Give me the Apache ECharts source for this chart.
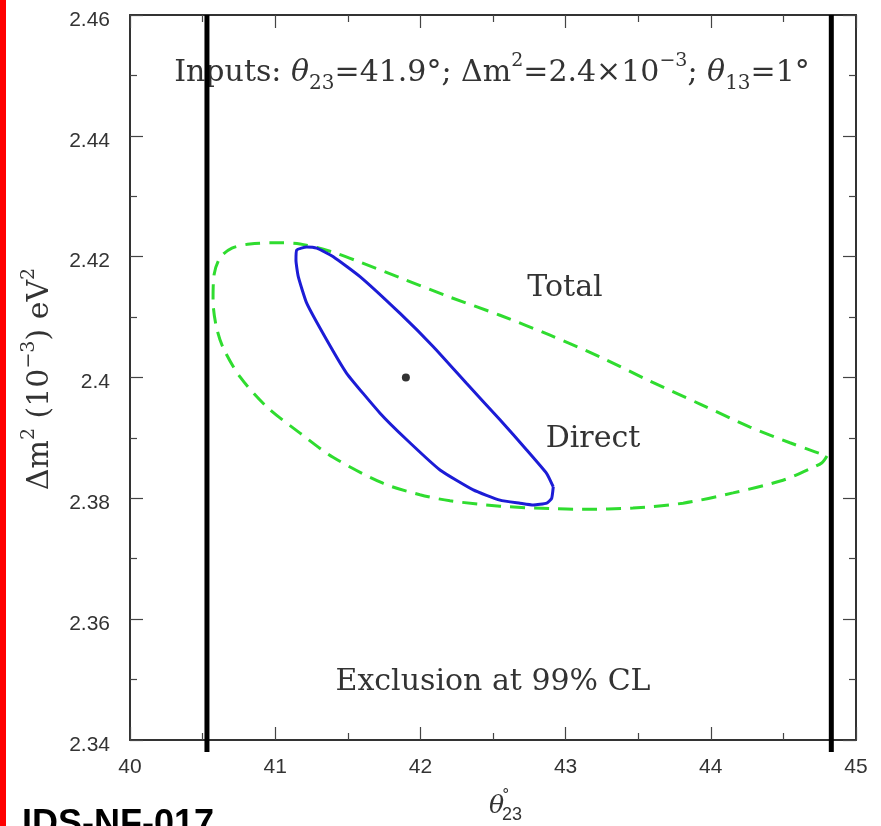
<!DOCTYPE html>
<html><head><meta charset="utf-8">
<script src="https://cdn.jsdelivr.net/npm/echarts@6/dist/echarts.min.js"></script>
<style>html,body{margin:0;padding:0;background:#fff}#c{width:881px;height:826px}</style>
</head><body><div id="c"></div>
<script>
// ---- data ----
const xRange = [40, 45];
const yRange = [2.34, 2.46];
const xTickStep = 1;
const yTickStep = 0.02;

// "Total" 99% CL contour (green dashed)
const totalTheta = [44.80, 44.766, 44.683, 44.497, 44.153, 43.809, 43.464, 43.120, 42.893, 42.548, 42.204, 41.997, 41.742, 41.398, 41.171, 40.944, 40.758, 40.640, 40.592, 40.572, 40.579, 40.620, 40.702, 40.826, 40.999, 41.171, 41.377, 41.584, 41.860, 42.204, 42.548, 42.893, 43.237, 43.581, 43.926, 44.270, 44.545, 44.718, 44.80];
const totalDm2 = [2.3870, 2.3859, 2.3849, 2.3830, 2.3809, 2.3792, 2.3784, 2.3782, 2.3783, 2.3787, 2.3796, 2.3806, 2.3825, 2.3868, 2.3908, 2.3951, 2.4001, 2.4050, 2.4087, 2.4128, 2.4170, 2.4198, 2.4214, 2.4221, 2.4223, 2.4221, 2.4209, 2.4191, 2.4165, 2.4133, 2.4103, 2.4070, 2.4034, 2.3994, 2.3956, 2.3918, 2.3892, 2.3877, 2.3870];

// "Direct" 99% CL contour (blue solid)
const directTheta = [42.915, 42.904, 42.870, 42.778, 42.686, 42.548, 42.364, 42.135, 41.906, 41.722, 41.492, 41.355, 41.217, 41.159, 41.143, 41.148, 41.217, 41.286, 41.400, 41.584, 41.860, 42.089, 42.319, 42.548, 42.732, 42.870, 42.915];
const directDm2 = [2.3819, 2.3800, 2.3792, 2.3789, 2.3792, 2.3797, 2.3814, 2.3847, 2.3897, 2.3941, 2.4007, 2.4062, 2.4123, 2.4167, 2.4194, 2.4211, 2.4216, 2.4214, 2.4200, 2.4167, 2.4106, 2.4051, 2.3990, 2.3930, 2.3880, 2.3841, 2.3819];

// input point
const bestTheta = [41.9];
const bestDm2 = [2.40];

// thick black vertical lines (theta positions), extending slightly below axis
const cutTheta = [40.53, 44.83];
const cutDm2 = [2.46, 2.338];

// ---- chart ----
const zip = (a, b) => a.map((v, i) => [v, b[i]]);
const serif = "'DejaVu Serif', serif";
const sans = "'Liberation Sans', Arial, sans-serif";
const txt = '#333';

const axisCommon = {
  type: 'value',
  splitLine: { show: false },
  axisLine: { show: true, lineStyle: { color: '#333', width: 2 } },
  axisTick: { show: true, inside: true, length: 13, lineStyle: { color: '#444', width: 1.2 } },
  minorTick: { show: true, splitNumber: 2, length: 7, lineStyle: { color: '#444', width: 1.2 } },
  minorSplitLine: { show: false }
};

const xBottom = Object.assign({}, axisCommon, {
  position: 'bottom', min: xRange[0], max: xRange[1], interval: xTickStep,
  axisLabel: { show: true, margin: 17, fontSize: 21, color: txt, fontFamily: sans, formatter: v => String(Math.round(v)) }
});
const xTop = Object.assign({}, axisCommon, {
  position: 'top', min: xRange[0], max: xRange[1], interval: xTickStep,
  axisLabel: { show: false }
});
const yLeft = Object.assign({}, axisCommon, {
  position: 'left', min: yRange[0], max: yRange[1], interval: yTickStep,
  axisLabel: { show: true, margin: 20, fontSize: 21, color: txt, fontFamily: sans,
    verticalAlign: 'top', lineHeight: 10,
    formatter: v => String(+(+v).toFixed(2)) }
});
const yRight = Object.assign({}, axisCommon, {
  position: 'right', min: yRange[0], max: yRange[1], interval: yTickStep,
  axisLabel: { show: false }
});

const richStyles = {
  it: { fontStyle: 'italic', fontFamily: serif, fontSize: 30, color: txt },
  sub: { fontFamily: serif, fontSize: 20, color: txt, verticalAlign: 'bottom' },
  sup: { fontFamily: serif, fontSize: 19, color: txt, verticalAlign: 'top' }
};

const series = [
  {
    type: 'line', name: 'Total', data: zip(totalTheta, totalDm2),
    symbol: 'none', smooth: 0.3, xAxisIndex: 0, yAxisIndex: 0,
    lineStyle: { color: '#2fdc2f', width: 3, type: [15, 9] }, z: 3
  },
  {
    type: 'line', name: 'Direct', data: zip(directTheta, directDm2),
    symbol: 'none', smooth: 0.15, xAxisIndex: 0, yAxisIndex: 0,
    lineStyle: { color: '#1c1cd6', width: 3 }, z: 4
  },
  {
    type: 'scatter', name: 'Input', data: zip(bestTheta, bestDm2),
    symbolSize: 8, itemStyle: { color: '#000' }, z: 5
  }
].concat(cutTheta.map(t => ({
  type: 'line', data: cutDm2.map(d => [t, d]), symbol: 'none', clip: false,
  lineStyle: { color: '#000', width: 5 }, z: 6
})));

const option = {
  animation: false,
  backgroundColor: '#fff',
  grid: { left: 130, top: 15, right: 25, bottom: 86 },
  xAxis: [xBottom, xTop],
  yAxis: [yLeft, yRight],
  series: series,
  graphic: [
    { type: 'rect', left: 0, top: 0, shape: { width: 6, height: 826 }, style: { fill: '#ff0000' }, silent: true },
    {
      type: 'text', x: 492, y: 73,
      style: {
        text: 'Inputs: {it|θ}{sub|23}=41.9°; Δm{sup|2}=2.4×10{sup|−3}; {it|θ}{sub|13}=1°',
        font: '30px ' + serif, fill: txt, align: 'center', verticalAlign: 'middle', lineHeight: 42,
        rich: richStyles
      }
    },
    { type: 'text', x: 565, y: 288, style: { text: 'Total', font: '30px ' + serif, fill: txt, align: 'center', verticalAlign: 'middle' } },
    { type: 'text', x: 593, y: 439, style: { text: 'Direct', font: '30px ' + serif, fill: txt, align: 'center', verticalAlign: 'middle' } },
    { type: 'text', x: 493, y: 682, style: { text: 'Exclusion at 99% CL', font: '30px ' + serif, fill: txt, align: 'center', verticalAlign: 'middle' } },
    {
      type: 'text', x: 40, y: 379, rotation: Math.PI / 2,
      style: {
        text: 'Δm{sup|2} (10{sup|−3}) eV{sup|2}',
        font: '30px ' + serif, fill: txt, align: 'center', verticalAlign: 'middle', lineHeight: 40,
        rich: richStyles
      }
    },
    { type: 'text', x: 489, y: 806, style: { text: 'θ', font: 'italic 25px ' + serif, fill: txt, align: 'left', verticalAlign: 'middle' } },
    { type: 'text', x: 502, y: 795, style: { text: '°', font: '15px ' + serif, fill: txt, align: 'left', verticalAlign: 'middle' } },
    { type: 'text', x: 502, y: 815, style: { text: '23', font: '18px ' + sans, fill: txt, align: 'left', verticalAlign: 'middle' } },
    { type: 'text', x: 22, y: 825, style: { text: 'IDS-NF-017', font: 'bold 36px ' + sans, fill: '#000', align: 'left', verticalAlign: 'middle' } }
  ]
};

const chart = echarts.init(document.getElementById('c'), null, { renderer: 'canvas' });
chart.setOption(option);
</script>
</body></html>
